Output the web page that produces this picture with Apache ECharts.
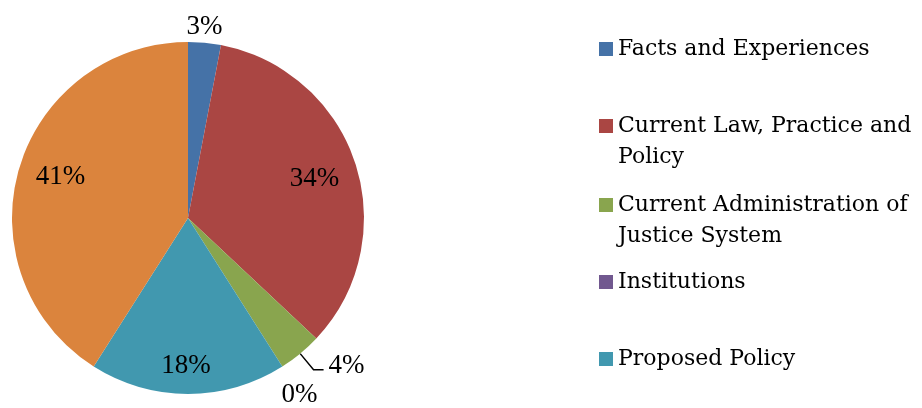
<!DOCTYPE html>
<html>
<head>
<meta charset="utf-8">
<script src="https://cdn.jsdelivr.net/npm/echarts@6/dist/echarts.min.js"></script>
<style>
  html, body { margin: 0; padding: 0; background: #fff; }
  #pie { width: 922px; height: 408px; }
</style>
</head>
<body>
<div id="pie"></div>
<script>
var categories = ['Facts and Experiences', 'Current Law, Practice and Policy',
  'Current Administration of Justice System', 'Institutions', 'Proposed Policy', 'Other'];
var legendText = ['Facts and Experiences', 'Current Law, Practice and\nPolicy',
  'Current Administration of\nJustice System', 'Institutions', 'Proposed Policy'];
var values = [3, 34, 4, 0, 18, 41];
var colors = ['#4572A7', '#AA4643', '#89A54E', '#71588F', '#4198AF', '#DB843D'];

var chart = echarts.init(document.getElementById('pie'));

// label placement per slice (Excel best-fit look)
var labelCfg = [
  { position: 'outside', offset: [-35, 5], line: false },
  { position: 'inside', offset: [40, -11], line: false },
  { position: 'outside', offset: [0, -4], line: true },
  { position: 'outside', offset: [-27, 11], line: false },
  { position: 'inside', offset: [-2, 57], line: false },
  { position: 'inside', offset: [-40, -16], line: false }
];

var data = categories.map(function (c, i) {
  return {
    name: c,
    value: values[i],
    itemStyle: { color: colors[i] },
    label: { position: labelCfg[i].position, offset: labelCfg[i].offset },
    labelLine: { show: labelCfg[i].line }
  };
});

// centre of the first text line of each legend entry
var legendTops = [47, 124, 203, 280, 357];
var legends = legendText.map(function (t, i) {
  var twoLine = t.indexOf('\n') >= 0;
  return {
    orient: 'vertical',
    left: 599,
    top: legendTops[i] - (twoLine ? 44.5 : 13.5),
    padding: 0,
    icon: 'rect',
    itemWidth: 14,
    itemHeight: 14,
    selectedMode: false,
    data: [categories[i]],
    // leading blank line keeps the square level with the first line
    formatter: function () { return twoLine ? '\n' + t : t; },
    textStyle: {
      fontFamily: 'DejaVu Serif',
      fontSize: 22,
      lineHeight: 31,
      color: '#000'
    }
  };
});

var option = {
  animation: false,
  legend: legends,
  series: [{
    type: 'pie',
    center: [188, 218],
    radius: 176,
    startAngle: 90,
    avoidLabelOverlap: false,
    data: data,
    label: {
      show: true,
      formatter: '{c}%',
      fontFamily: 'Liberation Serif',
      fontSize: 27,
      color: '#000'
    },
    labelLine: {
      length: 21,
      length2: 10,
      lineStyle: { color: '#000', width: 1.5 }
    },
    itemStyle: { borderWidth: 0 },
    emphasis: { disabled: true }
  }]
};

chart.setOption(option);
</script>
</body>
</html>
